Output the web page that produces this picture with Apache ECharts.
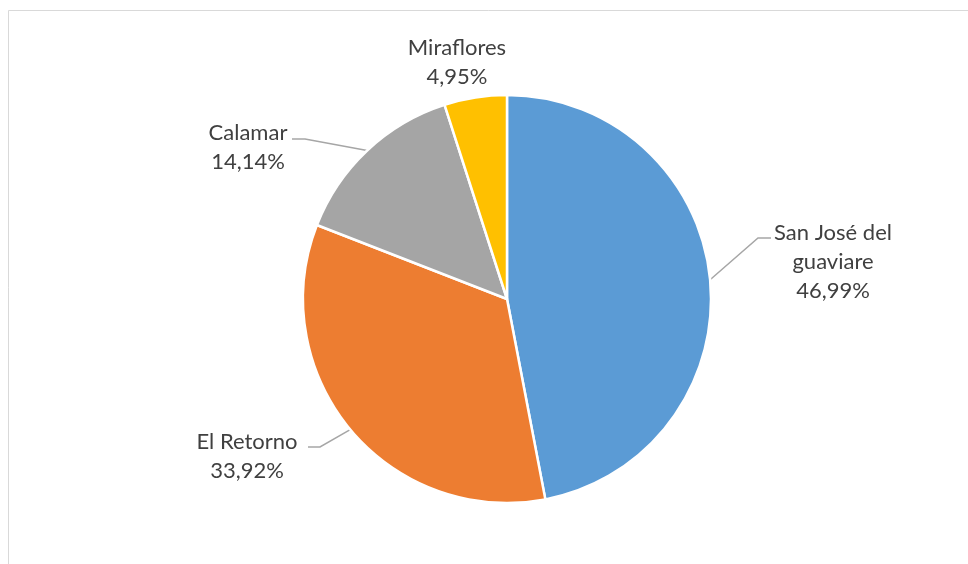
<!DOCTYPE html>
<html>
<head>
<meta charset="utf-8">
<script src="https://cdn.jsdelivr.net/npm/echarts@6/dist/echarts.min.js"></script>
<style>
  html, body { margin: 0; padding: 0; background: #fff; }
  #chart { width: 968px; height: 564px; }
</style>
</head>
<body>
<div id="chart"></div>
<script>
// datos del grafico (porcentaje por municipio)
const municipios = ['San José del\nguaviare', 'El Retorno', 'Calamar', 'Miraflores']
const porcentajes = [46.99, 33.92, 14.14, 4.95]
const colores = ['#5B9BD5', '#ED7D31', '#A5A5A5', '#FFC000']

// posicion de cada etiqueta (centro del bloque de texto) y quiebre de la linea guia
const etiquetas = [
  { x: 833, y: 262, linea: [[758, 238], [771, 238]] },
  { x: 247, y: 456, linea: [[320, 447], [308, 447]] },
  { x: 248, y: 147, linea: [[305, 139], [292, 139]] },
  { x: 457, y: 62, linea: null }
]

const chart = echarts.init(document.getElementById('chart'))

const option = {
  backgroundColor: '#fff',
  animation: false,
  graphic: [
    {
      type: 'rect',
      shape: { x: 8.5, y: 10.5, width: 1000, height: 600 },
      style: { fill: 'none', stroke: '#D9D9D9', lineWidth: 1 }
    }
  ],
  series: [
    {
      type: 'pie',
      center: [507, 299],
      radius: 204,
      startAngle: 90,
      clockwise: true,
      itemStyle: {
        borderColor: '#fff',
        borderWidth: 2.5
      },
      label: {
        show: true,
        fontFamily: 'Lato',
        fontSize: 22,
        lineHeight: 29,
        color: '#404040',
        align: 'center',
        formatter: function (p) {
          return p.name + '\n' + p.value.toFixed(2).replace('.', ',') + '%'
        }
      },
      labelLine: {
        show: true,
        lineStyle: { color: '#A6A6A6', width: 1.5 }
      },
      labelLayout: function (params) {
        const e = etiquetas[params.dataIndex]
        const res = {
          x: e.x,
          y: e.y,
          align: 'center',
          verticalAlign: 'middle'
        }
        if (e.linea && params.labelLinePoints) {
          res.labelLinePoints = [params.labelLinePoints[0], e.linea[0], e.linea[1]]
        }
        return res
      },
      data: municipios.map(function (name, i) {
        const item = {
          name: name,
          value: porcentajes[i],
          itemStyle: { color: colores[i] }
        }
        if (!etiquetas[i].linea) {
          item.labelLine = { show: false }
        }
        return item
      })
    }
  ]
}

chart.setOption(option)
</script>
</body>
</html>
